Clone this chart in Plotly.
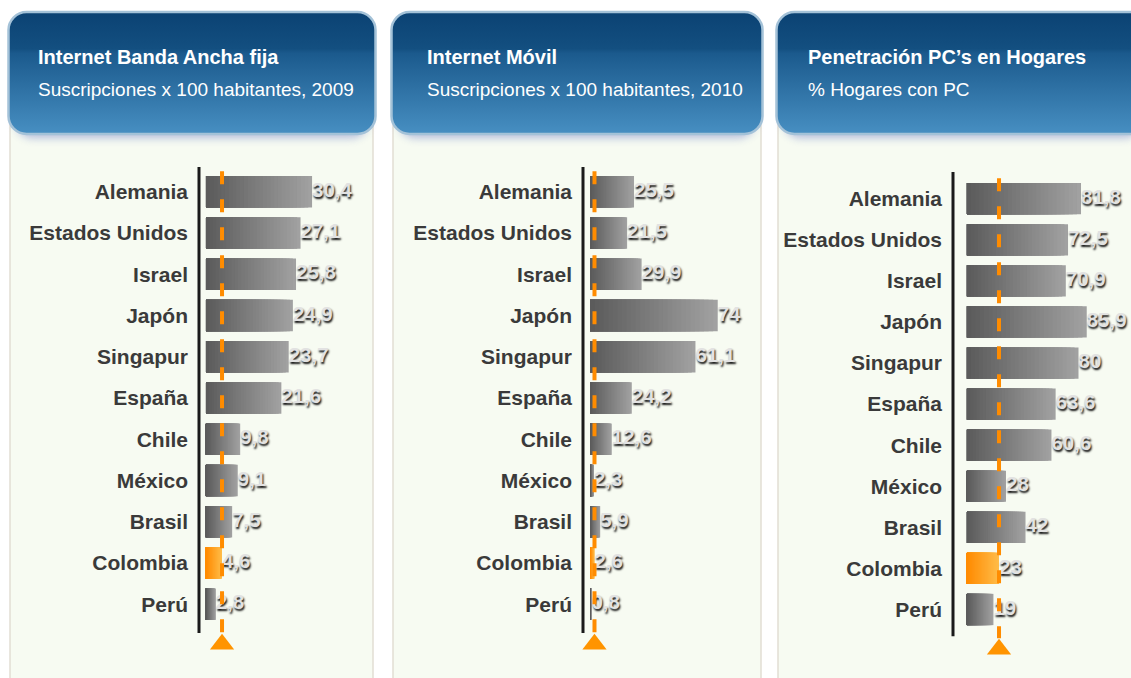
import base64
import plotly.graph_objects as go

# ---------------- data ----------------
countries = ["Alemania", "Estados Unidos", "Israel", "Japón", "Singapur", "España",
             "Chile", "México", "Brasil", "Colombia", "Perú"]
banda_ancha_2009 = [30.4, 27.1, 25.8, 24.9, 23.7, 21.6, 9.8, 9.1, 7.5, 4.6, 2.8]
internet_movil_2010 = [25.5, 21.5, 29.9, 74, 61.1, 24.2, 12.6, 2.3, 5.9, 2.6, 0.8]
pc_hogares = [81.8, 72.5, 70.9, 85.9, 80, 63.6, 60.6, 28, 42, 23, 19]
titles = ["Internet Banda Ancha fija", "Internet Móvil", "Penetración PC’s en Hogares"]
subtitles = ["Suscripciones x 100 habitantes, 2009", "Suscripciones x 100 habitantes, 2010",
             "% Hogares con PC"]
highlight = "Colombia"

series = [banda_ancha_2009, internet_movil_2010, pc_hogares]

W, H = 1131, 678

# ---------------- layout geometry (pixels) ----------------
panels = [
    dict(xdom=(199, 370), ydom=(167, 662), xr=(-2.0, 47.0), yr=(11.4, -0.6), ax=(-0.6, 10.7),
         header=(7, 377), body=(10, 373), tx=36),
    dict(xdom=(583, 760), ydom=(167, 662), xr=(-4.06, 98.5), yr=(11.4, -0.6), ax=(-0.6, 10.7),
         header=(390, 764), body=(393, 761), tx=425),
    dict(xdom=(953, 1128), ydom=(172, 667), xr=(-10.0, 115.5), yr=(11.4, -0.65), ax=(-0.65, 10.65),
         header=(775, 1150), body=(778, 1140), tx=806),
]


def px_x(p):
    return p / W


def px_y(p):
    return 1 - p / H


def lerp(c1, c2, t):
    a = [int(c1[i:i + 2], 16) for i in (1, 3, 5)]
    b = [int(c2[i:i + 2], 16) for i in (1, 3, 5)]
    return "#%02x%02x%02x" % tuple(round(a[i] + (b[i] - a[i]) * t) for i in range(3))


def fmt(v):
    return f"{v:g}".replace(".", ",")


def header_svg(w, h):
    svg = f'''<svg xmlns="http://www.w3.org/2000/svg" width="{w}" height="{h}" viewBox="0 0 {w} {h}" preserveAspectRatio="none">
<defs>
<linearGradient id="g" x1="0" y1="0" x2="0" y2="1">
<stop offset="0" stop-color="#0b4273"/>
<stop offset="0.30" stop-color="#134f80"/>
<stop offset="0.34" stop-color="#1b5a8d"/>
<stop offset="1" stop-color="#478fc2"/>
</linearGradient>
<filter id="f" x="-10%" y="-10%" width="120%" height="140%"><feGaussianBlur stdDeviation="4"/></filter>
</defs>
<rect x="8" y="12" width="{w-16}" height="{h-24}" rx="18" fill="#6070c0" opacity="0.45" filter="url(#f)"/>
<rect x="1.5" y="2" width="{w-3}" height="{h-18}" rx="18" fill="url(#g)" stroke="#a4c2d8" stroke-width="2.5"/>
</svg>'''
    return "data:image/svg+xml;base64," + base64.b64encode(svg.encode()).decode()


fig = go.Figure()
rows = list(range(len(countries)))
N = 28
gray_l, gray_r = "#5a5a5a", "#a2a2a2"
or_l, or_r = "#ff8a00", "#ffbd4a"
ci = countries.index(highlight)

shapes = []
images = []
annotations = []

for i, (p, vals) in enumerate(zip(panels, series)):
    xa = "x" if i == 0 else f"x{i+1}"
    ya = "y" if i == 0 else f"y{i+1}"
    # gradient bars: overlay progressively shorter, darker bars
    for k in range(N):
        frac = (N - k) / N
        t = (N - k - 0.5) / N
        colors = [lerp(or_l, or_r, t) if c == highlight else lerp(gray_l, gray_r, t)
                  for c in countries]
        fig.add_trace(go.Bar(
            x=[v * frac for v in vals], y=rows, base=0, orientation="h", width=0.76,
            marker=dict(color=colors, line=dict(width=0)),
            xaxis=xa, yaxis=ya, hoverinfo="skip", showlegend=False))
    # value labels
    fig.add_trace(go.Scatter(
        x=vals, y=rows, mode="text", text=[fmt(v) for v in vals],
        textposition="middle right",
        textfont=dict(family="Liberation Sans, Arial", size=20.5, color="#e2e2e2",
                      weight="bold", shadow="1px 2px 2px #111111"),
        xaxis=xa, yaxis=ya, cliponaxis=False, hoverinfo="skip", showlegend=False))
    # highlight marker triangle
    fig.add_trace(go.Scatter(
        x=[vals[ci]], y=[10.97], mode="markers",
        marker=dict(symbol="triangle-up", size=21, color="#ff9400", line=dict(width=0)),
        xaxis=xa, yaxis=ya, cliponaxis=False, hoverinfo="skip", showlegend=False))
    # dashed highlight line
    shapes.append(dict(type="line", xref=xa, yref=ya, x0=vals[ci], x1=vals[ci],
                       y0=-0.5, y1=10.7, layer="above",
                       line=dict(color="#ff8c00", width=4, dash="13px,15px")))
    # vertical axis line
    shapes.append(dict(type="line", xref=f"{xa} domain", yref=ya, x0=0, x1=0,
                       y0=p["ax"][0], y1=p["ax"][1], layer="above",
                       line=dict(color="#1a1a1a", width=3)))
    # panel body
    shapes.append(dict(type="rect", xref="paper", yref="paper", layer="below",
                       x0=px_x(p["body"][0]), x1=px_x(p["body"][1]),
                       y0=px_y(690), y1=px_y(120),
                       fillcolor="#f7fbf2", line=dict(color="#e2ded4", width=1.5)))
    # header image
    hw = p["header"][1] - p["header"][0]
    images.append(dict(source=header_svg(hw, 140), xref="paper", yref="paper",
                       x=px_x(p["header"][0]), y=px_y(10), sizex=hw / W, sizey=140 / H,
                       xanchor="left", yanchor="top", sizing="stretch", layer="above"))
    annotations.append(dict(text=titles[i], xref="paper", yref="paper",
                            x=px_x(p["tx"]), y=px_y(57), xanchor="left", yanchor="middle",
                            showarrow=False,
                            font=dict(family="Liberation Sans, Arial",
                                      size=20, color="white", weight="bold")))
    annotations.append(dict(text=subtitles[i], xref="paper", yref="paper",
                            x=px_x(p["tx"]), y=px_y(89), xanchor="left", yanchor="middle",
                            showarrow=False,
                            font=dict(family="Liberation Sans, Arial",
                                      size=19, color="white")))

    xd = p["xdom"]
    yd = p["ydom"]
    fig.layout[f"xaxis{'' if i == 0 else i+1}"] = dict(
        domain=[px_x(xd[0]), px_x(xd[1])], range=list(p["xr"]), visible=False,
        anchor=ya, fixedrange=True)
    fig.layout[f"yaxis{'' if i == 0 else i+1}"] = dict(
        domain=[px_y(yd[1]), px_y(yd[0])], range=list(p["yr"]), anchor=xa,
        tickvals=rows, ticktext=countries, ticks="", showline=False,
        showgrid=False, zeroline=False, ticklabelstandoff=10, fixedrange=True,
        tickfont=dict(family="Liberation Sans, Arial", size=21,
                      color="#3a3a3a", weight="bold"))

fig.update_layout(
    width=W, height=H, margin=dict(l=0, r=0, t=0, b=0),
    paper_bgcolor="white", plot_bgcolor="rgba(0,0,0,0)",
    barmode="overlay", showlegend=False,
    shapes=shapes, images=images, annotations=annotations,
)

fig.write_html("out.html", config={"displayModeBar": False},
               post_script="document.body.style.margin='0';")
